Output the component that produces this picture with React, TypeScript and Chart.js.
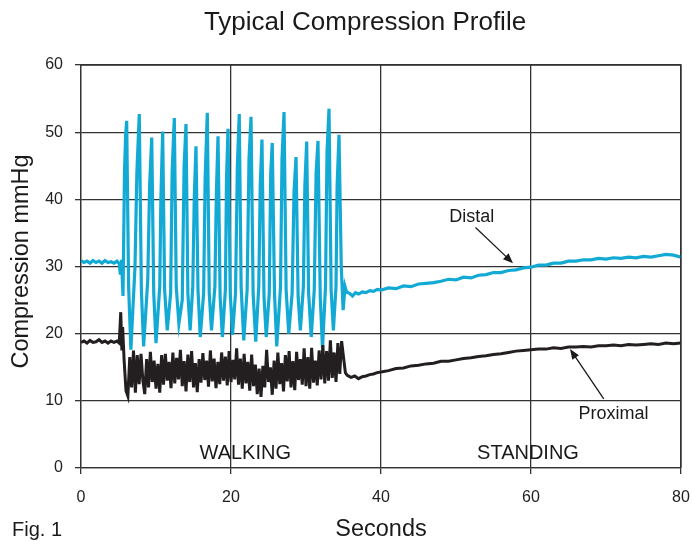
import { useEffect, useRef } from "react";
import { Chart, registerables } from "chart.js";
Chart.register(...registerables);

const FONT = '"Liberation Sans", Arial, sans-serif';

const chartTitle = "Typical Compression Profile";
const xTitle = "Seconds";
const yTitle = "Compression mmHg";
const figLabel = "Fig. 1";
const phaseLabels = ["WALKING", "STANDING"];
const phaseCenters = [21.9, 59.6];

// Distal (cyan) series: time in seconds, value in mmHg
const distalTime = [
  0, 0.4, 0.8, 1.2, 1.6, 2.0, 2.4, 2.8, 3.2, 3.6, 4.0, 4.4, 4.8, 5.1, 5.25, 5.4, 5.6, 5.8, 5.95,
  6.09, 6.35, 6.65, 7.2, 7.45,
  7.77, 8.05, 8.35, 8.9, 9.15,
  9.43, 9.7, 10.0, 10.5, 10.65,
  10.89, 11.15, 11.5, 11.95, 12.15,
  12.44, 12.7, 13.05, 13.5, 13.75,
  14.0, 14.25, 14.55, 14.9, 15.1,
  15.33, 15.6, 15.9, 16.35, 16.55,
  16.84, 17.1, 17.4, 17.85, 18.05,
  18.27, 18.55, 18.85, 19.25, 19.4,
  19.6, 19.9, 20.2, 20.6, 20.85,
  21.1, 21.35, 21.7, 22.15, 22.4,
  22.67, 22.95, 23.3, 23.7, 23.9,
  24.13, 24.4, 24.7, 25.1, 25.3,
  25.5, 25.8, 26.1, 26.6, 26.8,
  27.07, 27.35, 27.7, 28.15, 28.4,
  28.67, 28.95, 29.25, 29.65, 29.85,
  30.09, 30.35, 30.7, 31.1, 31.35,
  31.6, 31.9, 32.2, 32.6, 32.8,
  33.07, 33.35, 33.65, 34.0, 34.15,
  34.4, 34.7, 34.95, 35.2, 35.4, 35.8, 36.2, 36.6, 37, 37.5, 38, 38.5, 39, 39.5, 40,
  41, 42, 43, 44, 45, 46, 47, 48, 49, 50, 51, 52, 53, 54, 55, 56, 57, 58, 59, 60,
  61, 62, 63, 64, 65, 66, 67, 68, 69, 70, 71, 72, 73, 74, 75, 76, 77, 78, 79, 80,
];
const distalValue = [
  30.9, 30.6, 30.8, 30.5, 30.9, 30.6, 30.8, 30.5, 30.9, 30.6, 30.7, 30.5, 30.8, 30.4, 28.8, 31.0, 25.6, 44, 49.5,
  51.7, 27, 17.6, 30, 44,
  52.7, 26.5, 18.1, 28, 42,
  49.2, 26, 18.6, 27, 40,
  50.1, 26.5, 20.5, 26, 44,
  52.1, 27, 21.5, 25, 45,
  51.2, 26, 20.5, 27, 40,
  47.9, 26.5, 19.5, 26, 43,
  52.9, 26, 20.5, 27, 41,
  49.4, 25.5, 19.5, 26.5, 43,
  50.5, 26, 19.8, 26, 45,
  52.7, 27, 19.0, 26.5, 46,
  52.3, 26, 18.8, 27, 42,
  48.9, 25.5, 19.5, 26, 44,
  48.4, 26, 18.1, 27, 46,
  53.0, 26.5, 20.0, 26, 41,
  46.3, 25.5, 20.5, 27, 42,
  48.6, 26, 19.5, 26.5, 44,
  48.7, 25.5, 17.8, 27, 47,
  53.5, 26.5, 20.5, 27, 42,
  49.6, 30, 23.5, 27, 26.2, 26.0, 25.6, 26.1, 25.9, 26.2, 26.1, 26.4, 26.3, 26.6, 26.5,
  26.8, 26.7, 27.1, 27.0, 27.4, 27.5, 27.6, 27.8, 28.1, 28.0, 28.4, 28.3, 28.7, 28.8, 29.1, 29.1, 29.4, 29.5, 29.8, 29.9,
  30.2, 30.2, 30.5, 30.5, 30.8, 30.8, 31.0, 31.0, 31.2, 31.1, 31.3, 31.2, 31.4, 31.3, 31.5, 31.4, 31.6, 31.8, 31.7, 31.4,
];

// Proximal (black) series: resting part before walking
const proximalRestTime = [0, 0.4, 0.8, 1.2, 1.6, 2.0, 2.4, 2.8, 3.2, 3.6, 4.0, 4.4, 4.8, 5.1, 5.3, 5.45, 5.55];
const proximalRestValue = [18.7, 18.9, 18.6, 19.0, 18.7, 18.8, 19.1, 18.7, 18.9, 18.6, 18.9, 18.7, 18.9, 18.6, 23.2, 17.5, 21.0];

// Proximal during walking, sampled every 0.25 s from 5.75 s
const proximalWalkStart = 5.75;
const proximalWalkStep = 0.25;
const proximalWalkValue = [
  16.0, 11.5, 10.7, 16.5, 12.0, 17.5, 11.2, 16.8, 12.5, 17.0, 13.0, 11.0, 16.2, 12.0, 17.3, 12.8,
  16.0, 11.8, 15.5, 11.2, 16.8, 12.4, 17.0, 13.0, 15.8, 11.9, 17.2, 12.6, 16.4, 13.2, 17.6, 12.2,
  15.9, 11.4, 16.9, 12.8, 17.4, 12.0, 15.6, 11.3, 16.2, 12.7, 17.1, 13.1, 16.0, 12.1, 17.5, 12.9,
  16.3, 11.9, 15.8, 12.5, 17.2, 13.0, 16.6, 12.3, 17.4, 12.8, 16.1, 13.2, 17.8, 12.4, 16.3, 11.8,
  17.0, 12.6, 15.8, 11.5, 16.9, 12.2, 15.4, 11.0, 14.8, 10.6, 15.2, 12.0, 17.6, 12.8, 15.0, 10.9,
  16.0, 11.8, 17.2, 12.5, 15.6, 11.4, 16.8, 12.9, 17.4, 12.0, 15.9, 11.6, 17.3, 13.1, 16.2, 12.4,
  17.8, 12.2, 16.5, 11.8, 17.9, 12.7, 16.0, 12.3, 17.5, 13.2, 18.3, 12.6, 17.4, 13.0, 19.0, 13.4,
  17.2, 12.8, 18.6, 14.0, 18.9, 16.5,
];

// Proximal while standing
const proximalStandTime = [
  35.25, 35.5, 36, 36.5, 37, 37.5, 38, 38.5, 39, 39.5, 40,
  41, 42, 43, 44, 45, 46, 47, 48, 49, 50, 51, 52, 53, 54, 55, 56, 57, 58, 59, 60,
  61, 62, 63, 64, 65, 66, 67, 68, 69, 70, 71, 72, 73, 74, 75, 76, 77, 78, 79, 80,
];
const proximalStandValue = [
  14.2, 13.8, 13.5, 13.7, 13.3, 13.6, 13.7, 13.9, 14.0, 14.2, 14.3,
  14.5, 14.8, 14.9, 15.2, 15.3, 15.5, 15.6, 15.9, 15.9, 16.1, 16.3, 16.4, 16.6, 16.7, 16.9, 17.0, 17.2, 17.4, 17.5, 17.6,
  17.7, 17.7, 17.9, 17.8, 18.0, 18.0, 18.1, 18.0, 18.2, 18.2, 18.3, 18.2, 18.4, 18.3, 18.4, 18.5, 18.4, 18.6, 18.5, 18.6,
];

// Annotation anchors (data coordinates)
const distalLabel = { text: "Distal", x: 52.1, y: 37.4 };
const distalArrow = { fromX: 52.6, fromY: 35.8, toX: 57.6, toY: 30.5 };
const proximalLabel = { text: "Proximal", x: 71.0, y: 8.0 };
const proximalArrow = { fromX: 69.7, fromY: 10.3, toX: 65.2, toY: 17.7 };

function drawArrow(ctx: CanvasRenderingContext2D, x1: number, y1: number, x2: number, y2: number) {
  const ang = Math.atan2(y2 - y1, x2 - x1);
  const hl = 10;
  const hw = 4;
  ctx.save();
  ctx.strokeStyle = "#1a1a1a";
  ctx.fillStyle = "#1a1a1a";
  ctx.lineWidth = 1.3;
  ctx.beginPath();
  ctx.moveTo(x1, y1);
  ctx.lineTo(x2 - Math.cos(ang) * hl * 0.8, y2 - Math.sin(ang) * hl * 0.8);
  ctx.stroke();
  ctx.beginPath();
  ctx.moveTo(x2, y2);
  ctx.lineTo(x2 - Math.cos(ang) * hl - Math.sin(ang) * hw, y2 - Math.sin(ang) * hl + Math.cos(ang) * hw);
  ctx.lineTo(x2 - Math.cos(ang) * hl + Math.sin(ang) * hw, y2 - Math.sin(ang) * hl - Math.cos(ang) * hw);
  ctx.closePath();
  ctx.fill();
  ctx.restore();
}

const textPlugin = {
  id: "texts",
  afterDraw(chart: any) {
    const ctx: CanvasRenderingContext2D = chart.ctx;
    const xs = chart.scales.x;
    const ys = chart.scales.y;
    const area = chart.chartArea;
    ctx.save();
    ctx.fillStyle = "#1a1a1a";
    ctx.textAlign = "center";
    ctx.textBaseline = "middle";
    ctx.font = `26px ${FONT}`;
    ctx.fillText(chartTitle, 365, 23);
    ctx.font = `23.5px ${FONT}`;
    ctx.fillText(xTitle, (area.left + area.right) / 2, 530);
    ctx.font = `20px ${FONT}`;
    ctx.textAlign = "left";
    ctx.fillText(figLabel, 12, 530);
    ctx.textAlign = "center";
    ctx.save();
    ctx.translate(22, (area.top + area.bottom) / 2 - 5);
    ctx.rotate(-Math.PI / 2);
    ctx.font = `23.5px ${FONT}`;
    ctx.fillText(yTitle, 0, 0);
    ctx.restore();
    ctx.font = `20px ${FONT}`;
    phaseLabels.forEach((lab, i) => {
      ctx.fillText(lab, xs.getPixelForValue(phaseCenters[i]), ys.getPixelForValue(2.2));
    });
    ctx.font = `18px ${FONT}`;
    ctx.fillText(distalLabel.text, xs.getPixelForValue(distalLabel.x), ys.getPixelForValue(distalLabel.y));
    ctx.fillText(proximalLabel.text, xs.getPixelForValue(proximalLabel.x), ys.getPixelForValue(proximalLabel.y));
    ctx.restore();
    drawArrow(ctx,
      xs.getPixelForValue(distalArrow.fromX), ys.getPixelForValue(distalArrow.fromY),
      xs.getPixelForValue(distalArrow.toX), ys.getPixelForValue(distalArrow.toY));
    drawArrow(ctx,
      xs.getPixelForValue(proximalArrow.fromX), ys.getPixelForValue(proximalArrow.fromY),
      xs.getPixelForValue(proximalArrow.toX), ys.getPixelForValue(proximalArrow.toY));
  },
};

export default function App() {
  const ref = useRef<HTMLCanvasElement | null>(null);
  useEffect(() => {
    if (!ref.current) return;
    const distal = distalTime.map((t, i) => ({ x: t, y: distalValue[i] }));
    const proximal = [
      ...proximalRestTime.map((t, i) => ({ x: t, y: proximalRestValue[i] })),
      ...proximalWalkValue.map((v, i) => ({ x: proximalWalkStart + i * proximalWalkStep, y: v })),
      ...proximalStandTime.map((t, i) => ({ x: t, y: proximalStandValue[i] })),
    ];
    const chart = new Chart(ref.current, {
      type: "line",
      data: {
        datasets: [
          {
            label: "Proximal",
            data: proximal,
            borderColor: "#231f20",
            borderWidth: 3,
            pointRadius: 0,
            tension: 0,
          },
          {
            label: "Distal",
            data: distal,
            borderColor: "#12aad4",
            borderWidth: 3.2,
            pointRadius: 0,
            tension: 0,
          },
        ],
      },
      options: {
        animation: false,
        responsive: false,
        layout: { padding: { top: 65, right: 1, left: 0, bottom: 0 } },
        plugins: { legend: { display: false }, title: { display: false }, tooltip: { enabled: false } },
        scales: {
          x: {
            type: "linear",
            min: 0,
            max: 80,
            afterFit: (s: any) => { s.height = 74; s.paddingRight = 11; },
            afterBuildTicks: (s: any) => { s.ticks = [0, 20, 40, 60, 80].map((v) => ({ value: v })); },
            ticks: { font: { family: FONT, size: 16 }, color: "#222", padding: 14, maxRotation: 0 },
            grid: { color: "#333", lineWidth: 1.3, tickLength: 6, tickColor: "#333" },
            border: { color: "#333", width: 1.3 },
          },
          y: {
            min: 0,
            max: 60,
            afterFit: (s: any) => { s.width = 81; },
            afterBuildTicks: (s: any) => { s.ticks = [0, 10, 20, 30, 40, 50, 60].map((v) => ({ value: v })); },
            ticks: { font: { family: FONT, size: 16 }, color: "#222", padding: 12 },
            grid: { color: "#333", lineWidth: 1.3, tickLength: 6, tickColor: "#333" },
            border: { color: "#333", width: 1.3 },
          },
        },
      },
      plugins: [
        textPlugin,
        {
          id: "frame",
          afterDatasetsDraw(c: any) {
            const a = c.chartArea;
            const ctx = c.ctx;
            ctx.save();
            ctx.strokeStyle = "#333";
            ctx.lineWidth = 1.3;
            ctx.beginPath();
            ctx.moveTo(a.left, a.top);
            ctx.lineTo(a.right, a.top);
            ctx.lineTo(a.right, a.bottom);
            ctx.stroke();
            ctx.restore();
          },
        },
      ],
    } as any);
    return () => chart.destroy();
  }, []);
  return (
    <div style={{ position: "fixed", left: 0, top: 0, width: 692, height: 542, background: "#fff" }}>
      <canvas ref={ref} width={692} height={542} style={{ width: 692, height: 542 }} />
    </div>
  );
}
